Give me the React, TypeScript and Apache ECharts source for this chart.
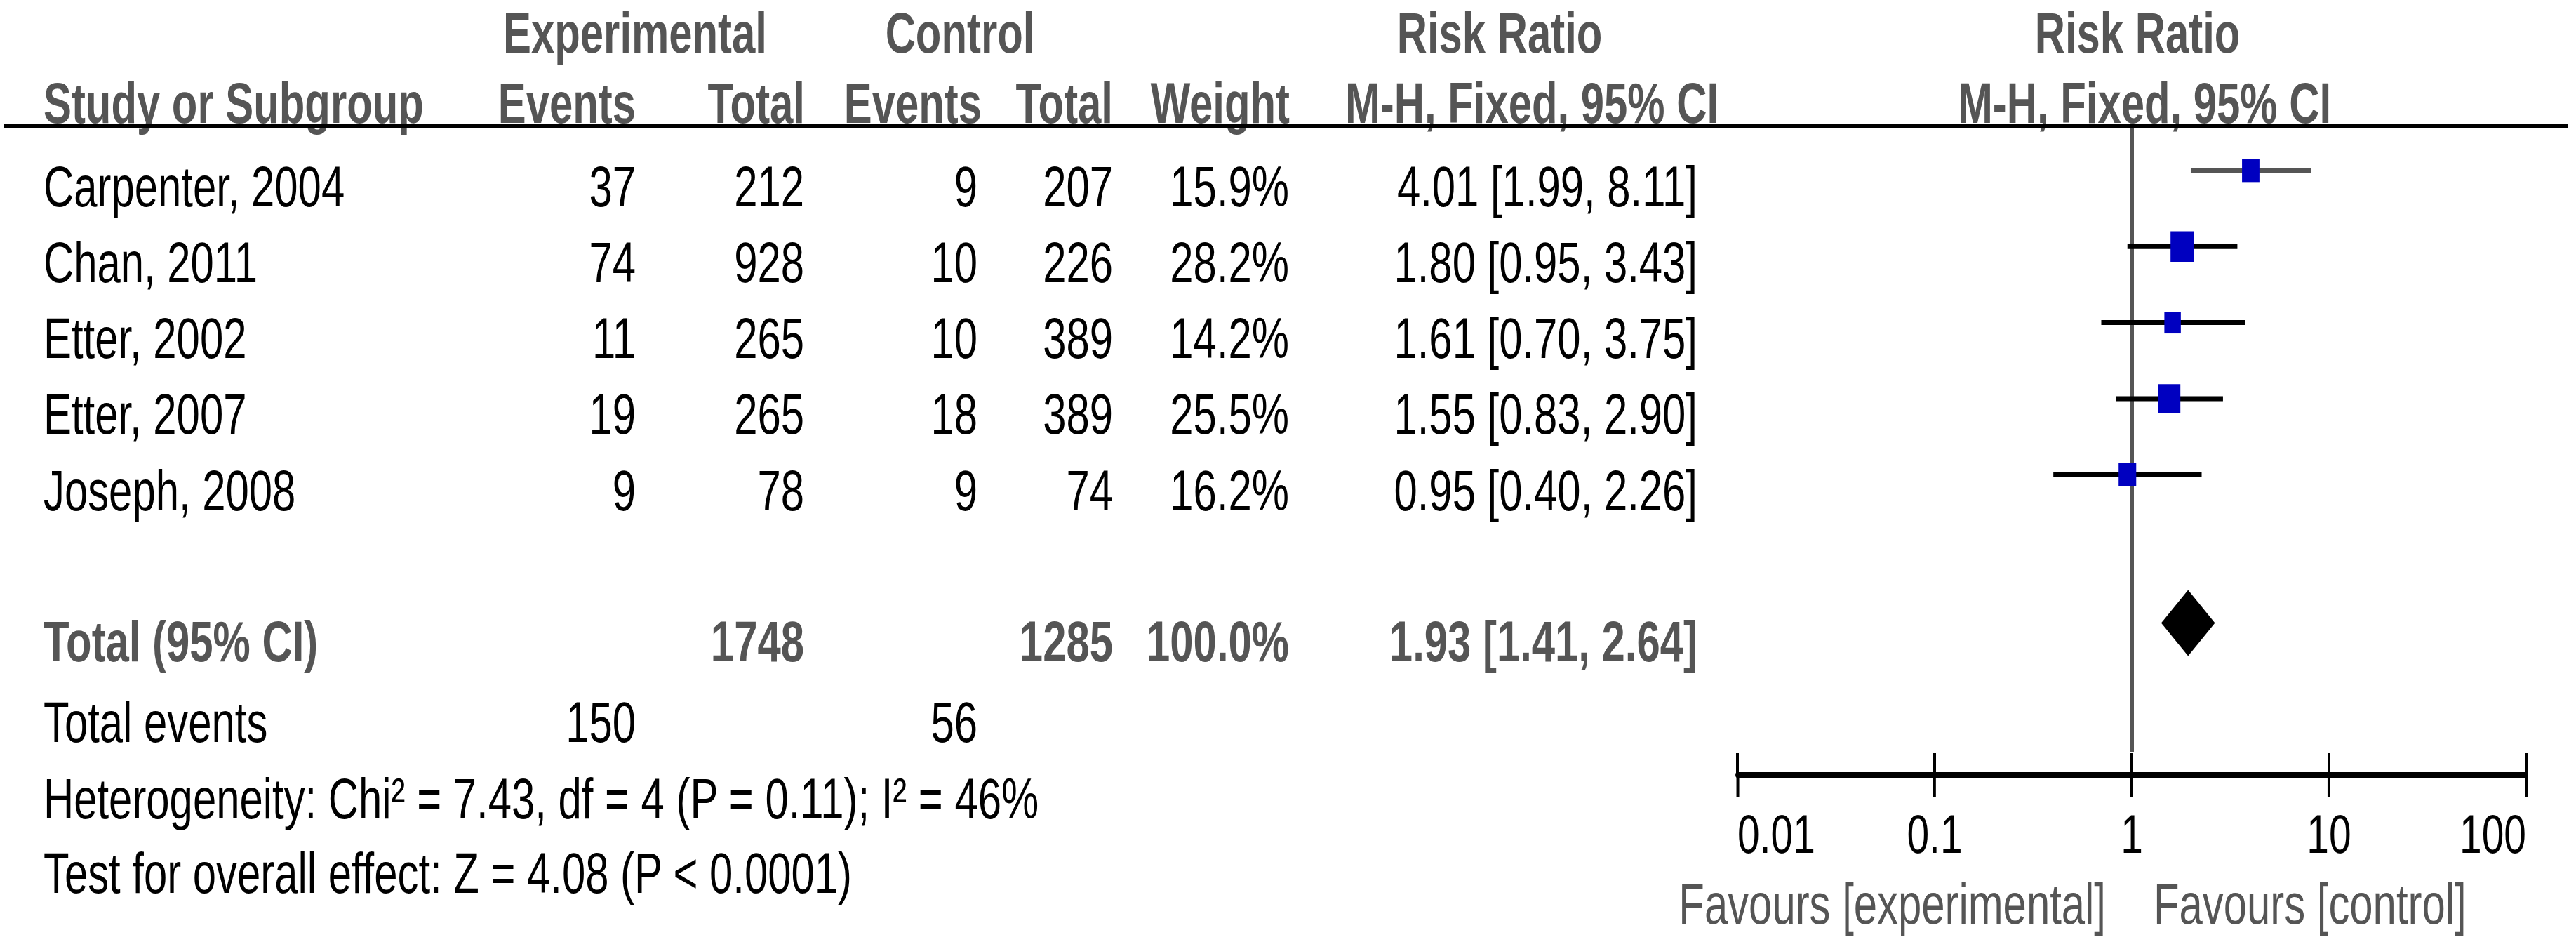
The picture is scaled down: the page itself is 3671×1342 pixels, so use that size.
import React, { useEffect, useRef } from "react";
import * as echarts from "echarts";

// ---------------- data ----------------
const studies = ["Carpenter, 2004", "Chan, 2011", "Etter, 2002", "Etter, 2007", "Joseph, 2008"];
const expEvents = [37, 74, 11, 19, 9];
const expTotal = [212, 928, 265, 265, 78];
const ctlEvents = [9, 10, 10, 18, 9];
const ctlTotal = [207, 226, 389, 389, 74];
const weights = [15.9, 28.2, 14.2, 25.5, 16.2];
const riskRatio = [4.01, 1.8, 1.61, 1.55, 0.95];
const ciLower = [1.99, 0.95, 0.7, 0.83, 0.4];
const ciUpper = [8.11, 3.43, 3.75, 2.9, 2.26];

const totalLabel = "Total (95% CI)";
const totalExp = 1748;
const totalCtl = 1285;
const totalWeight = 100.0;
const totalRR = 1.93;
const totalLower = 1.41;
const totalUpper = 2.64;
const totalEventsExp = 150;
const totalEventsCtl = 56;
const heterogeneityText = "Heterogeneity: Chi\u00B2 = 7.43, df = 4 (P = 0.11); I\u00B2 = 46%";
const overallText = "Test for overall effect: Z = 4.08 (P < 0.0001)";

const tickValues = [0.01, 0.1, 1, 10, 100];
const tickLabels = ["0.01", "0.1", "1", "10", "100"];
const nullEffect = 1;
const favoursLeft = "Favours [experimental]";
const favoursRight = "Favours [control]";

// ---------------- layout / style ----------------
const S = 0.73; // horizontal condensation of the whole picture
const W = Math.round(3671 / S);
const H = 1342;
const sx = (px: number) => px / S;
const FONT = "'Liberation Sans', Arial, Helvetica, sans-serif";
const FS = 82;
const GRAY = "#555555";
const BLUE = "#0000C0";
const GRID_TOP = 183;
const GRID_BOTTOM = 1104;
const AX_L = 2476;
const AX_R = 3600;
const Y_MIN = -0.554;
const Y_MAX = 7.95;
const REF_END = 7.646;
const TICK_LEN = 31;
const TEXT_DY = 22;
const TOTAL_TEXT_DY = 26;
const TOTAL_ROW = 5.95;
const ciLineColors = [GRAY, "#000", "#000", "#000", "#000"];
const COL = { study: 62, expEv: 906, expTot: 1146, ctlEv: 1393, ctlTot: 1586, weight: 1837, ci: 2419 };

const fmtCI = (e: number, l: number, u: number) => `${e.toFixed(2)} [${l.toFixed(2)}, ${u.toFixed(2)}]`;

const txt = (
  text: string,
  x: number,
  y: number,
  align: "left" | "right" | "center",
  fill = "#000",
  bold = false
) => ({
  type: "text",
  x: sx(x),
  y,
  silent: true,
  style: {
    text,
    x: 0,
    y: 0,
    fill,
    fontSize: FS,
    fontFamily: FONT,
    fontWeight: bold ? "bold" : "normal",
    align,
    verticalAlign: "middle",
  },
});

type Row = { row: number; dy: number; cells: [string, number, "left" | "right"][]; bold: boolean; color: string };

const tableRows: Row[] = [
  ...studies.map((name, i) => ({
    row: i,
    dy: TEXT_DY,
    bold: false,
    color: "#000",
    cells: [
      [name, COL.study, "left"],
      [String(expEvents[i]), COL.expEv, "right"],
      [String(expTotal[i]), COL.expTot, "right"],
      [String(ctlEvents[i]), COL.ctlEv, "right"],
      [String(ctlTotal[i]), COL.ctlTot, "right"],
      [weights[i].toFixed(1) + "%", COL.weight, "right"],
      [fmtCI(riskRatio[i], ciLower[i], ciUpper[i]), COL.ci, "right"],
    ] as [string, number, "left" | "right"][],
  })),
  {
    row: TOTAL_ROW,
    dy: TOTAL_TEXT_DY,
    bold: true,
    color: GRAY,
    cells: [
      [totalLabel, COL.study, "left"],
      [String(totalExp), COL.expTot, "right"],
      [String(totalCtl), COL.ctlTot, "right"],
      [totalWeight.toFixed(1) + "%", COL.weight, "right"],
      [fmtCI(totalRR, totalLower, totalUpper), COL.ci, "right"],
    ],
  },
];

export default function App() {
  const ref = useRef<HTMLDivElement>(null);

  useEffect(() => {
    if (!ref.current) return;
    const chart = echarts.init(ref.current, null, { renderer: "svg", width: W, height: H });

    const option: any = {
      animation: false,
      backgroundColor: "#ffffff",
      grid: {
        left: sx(AX_L),
        width: sx(AX_R - AX_L),
        top: GRID_TOP,
        height: GRID_BOTTOM - GRID_TOP,
      },
      xAxis: {
        type: "log",
        logBase: 10,
        min: tickValues[0],
        max: tickValues[tickValues.length - 1],
        position: "bottom",
        splitLine: { show: false },
        minorTick: { show: false },
        axisLine: { show: true, onZero: false, lineStyle: { color: "#000", width: 8 } },
        axisTick: { show: true, inside: false, length: TICK_LEN, lineStyle: { color: "#000", width: 4 / S } },
        axisLabel: {
          show: true,
          margin: 84,
          verticalAlign: "middle",
          alignMinLabel: "left",
          alignMaxLabel: "right",
          color: "#000",
          fontSize: 78,
          fontFamily: FONT,
          formatter: (v: number) =>
            tickLabels[tickValues.findIndex((t) => Math.abs(Math.log10(t) - Math.log10(v)) < 1e-6)] ?? "",
        },
      },
      yAxis: { type: "value", min: Y_MIN, max: Y_MAX, inverse: true, show: false },
      series: [
        {
          type: "line",
          data: [
            [nullEffect, Y_MIN],
            [nullEffect, REF_END],
          ],
          symbol: "none",
          silent: true,
          lineStyle: { color: GRAY, width: 6 / S },
          z: 1,
        },
        {
          // upper halves of the axis ticks (ticks cross the axis line)
          type: "custom",
          clip: false,
          silent: true,
          z: 2,
          encode: { x: 0, y: 1 },
          data: tickValues.map((v) => [v, Y_MAX]),
          renderItem: (_p: any, api: any) => {
            const p = api.coord([api.value(0), api.value(1)]);
            return {
              type: "line",
              shape: { x1: p[0], y1: p[1], x2: p[0], y2: p[1] - TICK_LEN },
              style: { stroke: "#000", lineWidth: 4 / S, lineCap: "butt" },
            };
          },
        },
        {
          type: "custom",
          clip: false,
          silent: true,
          z: 2,
          encode: { x: [0, 1], y: 2 },
          data: studies.map((_, i) => [ciLower[i], ciUpper[i], i]),
          renderItem: (params: any, api: any) => {
            const a = api.coord([api.value(0), api.value(2)]);
            const b = api.coord([api.value(1), api.value(2)]);
            return {
              type: "line",
              shape: { x1: a[0], y1: a[1], x2: b[0], y2: b[1] },
              style: { stroke: ciLineColors[params.dataIndex], lineWidth: 7, lineCap: "butt" },
            };
          },
        },
        {
          type: "scatter",
          symbol: "rect",
          silent: true,
          z: 3,
          itemStyle: { color: BLUE, opacity: 1 },
          data: riskRatio.map((v, i) => {
            const h = 8.2 * Math.sqrt(weights[i]);
            return { value: [v, i], symbolSize: [1.04 * h, h] };
          }),
        },
        {
          type: "custom",
          clip: false,
          silent: true,
          z: 3,
          encode: { x: [0, 1, 2], y: 3 },
          data: [[totalRR, totalLower, totalUpper, TOTAL_ROW]],
          renderItem: (_p: any, api: any) => {
            const c = api.coord([api.value(0), api.value(3)]);
            const l = api.coord([api.value(1), api.value(3)]);
            const u = api.coord([api.value(2), api.value(3)]);
            return {
              type: "polygon",
              shape: {
                points: [
                  [l[0], c[1]],
                  [c[0], c[1] - 47],
                  [u[0], c[1]],
                  [c[0], c[1] + 47],
                ],
              },
              style: { fill: "#000" },
            };
          },
        },
        {
          type: "custom",
          clip: false,
          silent: true,
          z: 4,
          encode: { x: 0, y: 1 },
          data: tableRows.map((r) => [nullEffect, r.row]),
          renderItem: (params: any, api: any) => {
            const r = tableRows[params.dataIndex];
            const y = api.coord([nullEffect, api.value(1)])[1] + r.dy;
            return {
              type: "group",
              children: r.cells.map(([t, x, al]) => txt(t, x, y, al, r.color, r.bold)),
            };
          },
        },
      ],
      graphic: [
        // header
        txt("Experimental", 905, 46, "center", GRAY, true),
        txt("Control", 1368, 46, "center", GRAY, true),
        txt("Risk Ratio", 2137, 46, "center", GRAY, true),
        txt("Risk Ratio", 3046, 46, "center", GRAY, true),
        txt("Study or Subgroup", COL.study, 146, "left", GRAY, true),
        txt("Events", 906, 146, "right", GRAY, true),
        txt("Total", 1147, 146, "right", GRAY, true),
        txt("Events", 1399, 146, "right", GRAY, true),
        txt("Total", 1586, 146, "right", GRAY, true),
        txt("Weight", 1838, 146, "right", GRAY, true),
        txt("M-H, Fixed, 95% CI", 2183, 146, "center", GRAY, true),
        txt("M-H, Fixed, 95% CI", 3056, 146, "center", GRAY, true),
        {
          type: "line",
          silent: true,
          shape: { x1: sx(6), y1: 180, x2: sx(3660), y2: 180 },
          style: { stroke: "#000", lineWidth: 6 },
        },
        // footer
        txt("Total events", COL.study, 1028, "left"),
        txt(String(totalEventsExp), COL.expEv, 1028, "right"),
        txt(String(totalEventsCtl), COL.ctlEv, 1028, "right"),
        txt(heterogeneityText, COL.study, 1137, "left"),
        txt(overallText, COL.study, 1243, "left"),
        txt(favoursLeft, 3001, 1287, "right", GRAY),
        txt(favoursRight, 3069, 1287, "left", GRAY),
      ],
    };

    chart.setOption(option);
    return () => chart.dispose();
  }, []);

  return (
    <div style={{ position: "absolute", left: 0, top: 0, width: 3671, height: H, overflow: "hidden", background: "#fff" }}>
      <div
        ref={ref}
        style={{ width: W, height: H, transform: `scaleX(${S})`, transformOrigin: "0 0" }}
      />
    </div>
  );
}
